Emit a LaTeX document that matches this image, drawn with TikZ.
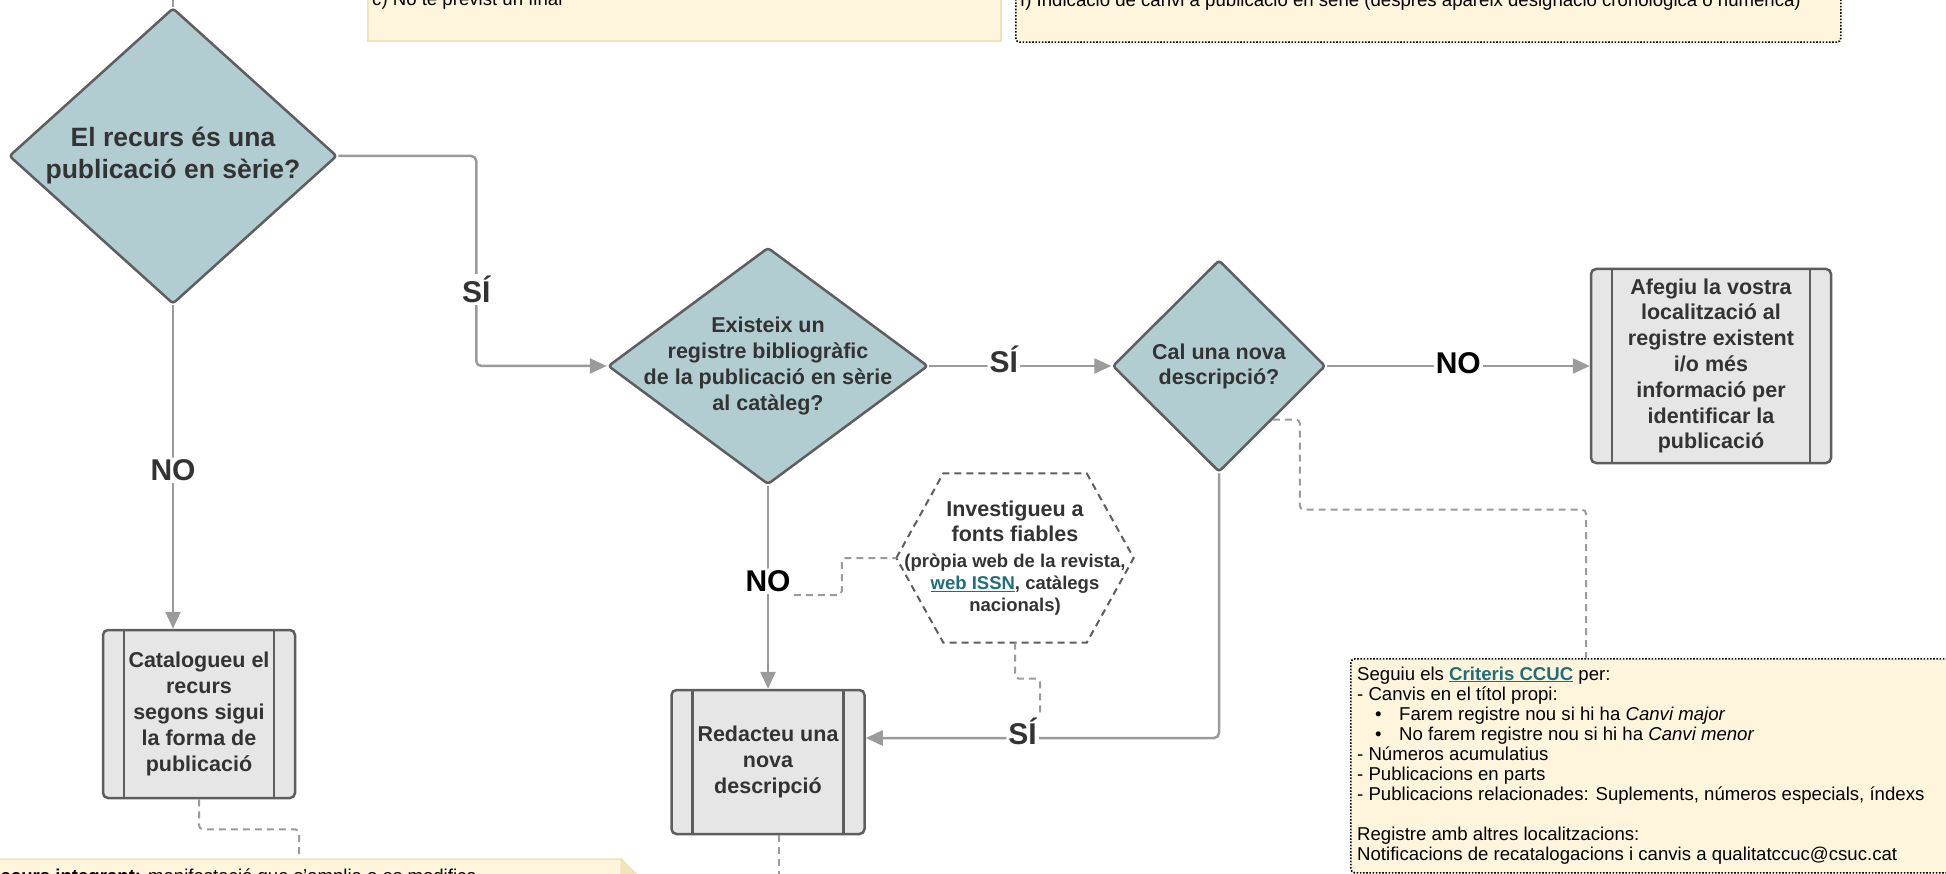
\documentclass[tikz,border=0pt]{standalone}
\usepackage{fontspec}
\setmainfont{Liberation Sans}
\usetikzlibrary{shapes.geometric,arrows.meta}

\definecolor{askfill}{HTML}{B2CDD2}
\definecolor{shapeline}{HTML}{5E5E5E}
\definecolor{boxfill}{HTML}{E6E6E6}
\definecolor{wire}{HTML}{9B9B9B}
\definecolor{notefill}{HTML}{FFF5DC}
\definecolor{noteline}{HTML}{F1E3B9}
\definecolor{foldfill}{HTML}{F2E3B8}
\definecolor{ink}{HTML}{333333}
\definecolor{linkteal}{HTML}{1E6F7D}

\newcommand{\weblink}[1]{\textcolor{linkteal}{\underline{\textbf{#1}}}}

\tikzset{
  ask/.style={diamond, draw=shapeline, fill=askfill, line width=2.5pt,
    rounded corners=3pt, inner sep=-30pt, align=center, text=ink},
  procbox/.style={rectangle, draw=shapeline, fill=boxfill, line width=2.5pt,
    rounded corners=5pt, align=center, text=ink,
    font=\bfseries\fontsize{21.5}{25.8}\selectfont,
    path picture={\draw[shapeline, line width=2.5pt]
      ([xshift=21pt]path picture bounding box.north west) --
      ([xshift=21pt]path picture bounding box.south west)
      ([xshift=-21pt]path picture bounding box.north east) --
      ([xshift=-21pt]path picture bounding box.south east);}},
  answer/.style={fill=white, inner sep=2pt, text=ink,
    font=\bfseries\fontsize{30}{30}\selectfont},
  wireline/.style={draw=wire, line width=2.5pt, rounded corners=5pt},
  arrowline/.style={wireline, -{Triangle[length=17pt,width=15pt]}},
  hintline/.style={draw=wire, line width=2pt, dash pattern=on 7pt off 5pt,
    rounded corners=4pt},
  notebox/.style={rectangle, fill=notefill, inner sep=0pt},
  dotbox/.style={notebox, draw=black, line width=1.6pt,
    dash pattern=on 1.6pt off 1.6pt, rounded corners=4pt},
  notetext/.style={inner sep=0pt, font=\fontsize{18.6}{20}\selectfont},
}

\begin{document}
\begin{tikzpicture}[x=1pt, y=-1pt]
\useasboundingbox (0,0) rectangle (1946,874);
\clip (0,0) rectangle (1946,874);

\node[notebox, draw=noteline, line width=1.5pt, anchor=south west,
  minimum width=633pt, minimum height=120pt] (endnote) at (367,42) {};
\node[notetext, anchor=base west] (endtext) at (372,6) {c) No té previst un final};
\node[dotbox, anchor=south west, minimum width=825pt, minimum height=120pt]
  (changenote) at (1015,43) {};
\node[notetext, anchor=base west] (changetext) at (1020,7)
  {f) Indicació de canvi a publicació en sèrie (després apareix designació cronològica o numèrica)};

\coordinate (entry) at (173,-5);
\node[ask, minimum width=328pt, minimum height=296pt,
  font=\bfseries\fontsize{26.5}{32}\selectfont] (serial) at (173,156)
  {El recurs és una\\publicació en sèrie?};
\node[ask, minimum width=320pt, minimum height=237pt,
  font=\bfseries\fontsize{21.5}{26}\selectfont] (exists) at (768,366)
  {Existeix un\\registre bibliogràfic\\de la publicació en sèrie\\al catàleg?};
\node[ask, minimum width=213pt, minimum height=212pt,
  font=\bfseries\fontsize{21.5}{25}\selectfont] (newdesc) at (1219,366)
  {Cal una nova\\descripció?};

\node[procbox, minimum width=240pt, minimum height=194pt] (addloc) at (1711,366)
  {Afegiu la vostra\\localització al\\registre existent\\i/o més\\informació per\\identificar la\\publicació};
\node[procbox, minimum width=192pt, minimum height=168pt] (catalog) at (199,714)
  {Catalogueu el\\recurs\\segons sigui\\la forma de\\publicació};
\node[procbox, minimum width=193pt, minimum height=144pt] (write) at (768,762)
  {Redacteu una\\nova\\descripció};

\node[align=center, text=ink, font=\bfseries\fontsize{18.5}{22}\selectfont,
  minimum width=237pt, minimum height=169pt, inner sep=0pt] (research) at (1015,558)
  {\fontsize{21.5}{25}\selectfont Investigueu a\\[3pt]
   \fontsize{21.5}{25}\selectfont fonts fiables\\[4pt]
   (pròpia web de la revista,\\
   \weblink{web ISSN}, catàlegs\\
   nacionals)};
\draw[shapeline, line width=2pt, dash pattern=on 7pt off 5pt]
  (research.west) -- ([xshift=47pt]research.north west)
  -- ([xshift=-47pt]research.north east) -- (research.east)
  -- ([xshift=-47pt]research.south east) -- ([xshift=47pt]research.south west) -- cycle;

\draw[wireline] (entry) -- (serial.north);
\draw[arrowline] (serial.east) -- ++(138,0)
  |- node[answer, pos=0.318] (yes1) {SÍ} (exists.west);
\draw[arrowline] (serial.south)
  -- node[answer, pos=0.51] (no1) {NO} (serial.south |- catalog.north);
\draw[arrowline] (exists.east)
  -- node[answer, pos=0.41, yshift=7pt] (yes2) {SÍ} (newdesc.west);
\draw[arrowline] (newdesc.east)
  -- node[answer, text=black, pos=0.5, yshift=3pt] (no2) {NO} (addloc.west);
\draw[arrowline] (exists.south)
  -- node[answer, text=black, pos=0.47] (no3) {NO} (write.north);
\draw[arrowline] (newdesc.south)
  |- node[answer, pos=0.778, yshift=7pt] (yes3) {SÍ} ([yshift=24pt]write.east);

\node[dotbox, anchor=north west, minimum width=700pt, minimum height=214pt]
  (criteria) at (1350,658) {};
\node[notetext, anchor=north west, align=left] (criteriatext) at (1357,666.4)
  {Seguiu els \weblink{Criteris CCUC} per:\\
   - Canvis en el títol propi:\\
   \makebox[42pt][l]{\hspace*{18pt}•}Farem registre nou si hi ha \textit{Canvi major}\\
   \makebox[42pt][l]{\hspace*{18pt}•}No farem registre nou si hi ha \textit{Canvi menor}\\
   - Números acumulatius\\
   - Publicacions en parts\\
   - Publicacions relacionades: Suplements, números especials, índexs\\[20pt]
   Registre amb altres localitzacions:\\
   Notificacions de recatalogacions i canvis a qualitatccuc@csuc.cat};

\filldraw[fill=notefill, draw=noteline, line width=1.5pt]
  (-20,859) -- (621,859) -- (643,881) -- (643,900) -- (-20,900) -- cycle;
\filldraw[fill=foldfill, draw=noteline, line width=1.5pt]
  (621,859) -- (621,881) -- (643,881) -- cycle;
\coordinate (integralnote) at (299,859);
\node[notetext, anchor=base west] (integraltext) at (-13,882)
  {\textbf{Recurs integrant:} manifestació que s'amplia o es modifica};

\draw[hintline] (no3.south east) -- ++(48,0) |- (research.west);
\draw[hintline] (research.south) -- ++(0,36) -| (yes3.north east);
\draw[hintline] (newdesc.south east) -- ++(27,0) -- ++(0,90)
  -| ([xshift=236pt]criteria.north west);
\draw[hintline] (catalog.south) -- ++(0,30) -| (integralnote);
\coordinate (writeout) at (779,880);
\draw[hintline] ([xshift=11pt]write.south) -- (writeout);
\end{tikzpicture}
\end{document}
